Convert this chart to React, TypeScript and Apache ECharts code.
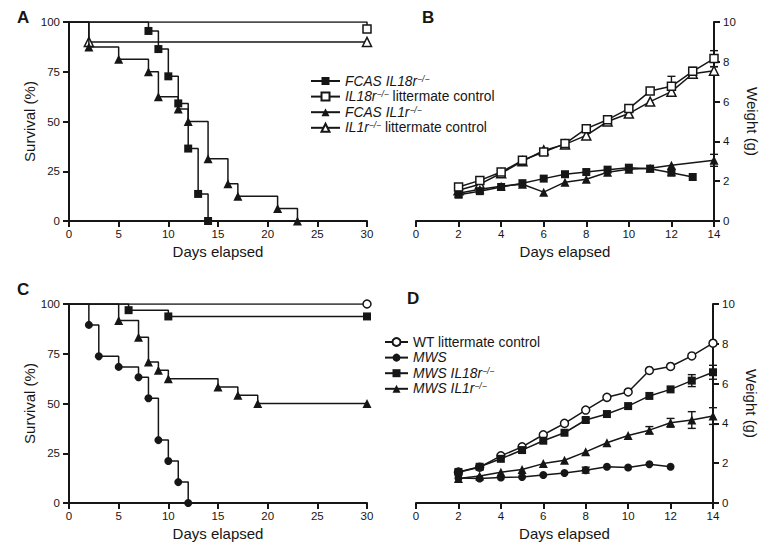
import React, { useEffect, useRef } from 'react';
import * as echarts from 'echarts';

// ---------- Panel A: survival (FCAS) ----------
const fcasIl18rDays = [8, 9, 10, 11, 12, 13, 14];
const fcasIl18rSurv = [95.5, 86.4, 72.7, 59.1, 36.4, 13.6, 0];
const il18rCtrlDays = [30];
const il18rCtrlSurv = [96.5];
const fcasIl1rDays = [2, 5, 8, 9, 11, 12, 14, 16, 17, 21, 23];
const fcasIl1rSurv = [87.5, 81.25, 75, 62.5, 56.25, 50, 31.25, 18.75, 12.5, 6.25, 0];
const il1rCtrlDays = [2];
const il1rCtrlSurv = [90];

// ---------- Panel B: weight (FCAS) ----------
const daysB = [2, 3, 4, 5, 6, 7, 8, 9, 10, 11, 12, 13, 14];
const il18rCtrlW = [1.71, 2.04, 2.46, 3.05, 3.47, 3.89, 4.64, 5.09, 5.65, 6.53, 6.77, 7.52, 8.16];
const il18rCtrlErr = [0, 0, 0, 0, 0, 0, 0, 0, 0, 0.15, 0.5, 0.2, 0.4];
const il1rCtrlW = [1.55, 1.85, 2.4, 3.0, 3.55, 3.85, 4.3, 5.0, 5.4, 6.0, 6.5, 7.4, 7.55];
const il1rCtrlErr = [0, 0, 0, 0, 0, 0, 0, 0, 0, 0, 0.15, 0, 0.2];
const fcasIl18rWDays = [2, 3, 4, 5, 6, 7, 8, 9, 10, 11, 12, 13];
const fcasIl18rW = [1.32, 1.5, 1.71, 1.9, 2.13, 2.35, 2.46, 2.58, 2.68, 2.63, 2.43, 2.21];
const fcasIl18rWErr = [0, 0, 0, 0, 0, 0, 0, 0, 0, 0, 0.15, 0];
const fcasIl1rWDays = [2, 3, 4, 5, 6, 7, 8, 9, 10, 11, 12, 14];
const fcasIl1rW = [1.4, 1.6, 1.75, 1.85, 1.45, 1.95, 2.1, 2.45, 2.6, 2.65, 2.8, 3.05];
const fcasIl1rWErr = [0, 0, 0, 0, 0, 0, 0, 0, 0, 0, 0, 0.3];

// ---------- Panel C: survival (MWS) ----------
const wtDays: number[] = [];
const wtSurv: number[] = [];
const mwsDays = [2, 3, 5, 7, 8, 9, 10, 11, 12];
const mwsSurv = [89.5, 73.7, 68.4, 63.2, 52.6, 31.6, 21.1, 10.5, 0];
const mwsIl18rDays = [6, 10];
const mwsIl18rSurv = [96.9, 93.75];
const mwsIl1rDays = [5, 7, 8, 9, 10, 15, 17, 19];
const mwsIl1rSurv = [91.7, 83.3, 70.8, 66.7, 62.5, 58.3, 54.2, 50];

// ---------- Panel D: weight (MWS) ----------
const daysD = [2, 3, 4, 5, 6, 7, 8, 9, 10, 11, 12, 13, 14];
const wtW = [1.55, 1.8, 2.37, 2.82, 3.43, 4.0, 4.67, 5.31, 5.58, 6.66, 6.86, 7.39, 8.03];
const wtErr = [0, 0, 0, 0, 0, 0, 0, 0, 0, 0, 0, 0, 0];
const mwsWDays = [2, 3, 4, 5, 6, 7, 8, 9, 10, 11, 12];
const mwsW = [1.25, 1.23, 1.28, 1.31, 1.41, 1.51, 1.65, 1.82, 1.78, 1.95, 1.82];
const mwsWErr = [0, 0, 0, 0, 0, 0, 0.15, 0, 0, 0, 0];
const mwsIl18rW = [1.56, 1.82, 2.22, 2.66, 3.13, 3.53, 4.17, 4.47, 4.87, 5.38, 5.71, 6.15, 6.57];
const mwsIl18rWErr = [0, 0, 0, 0, 0, 0, 0.1, 0, 0, 0, 0, 0.3, 0.35];
const mwsIl1rW = [1.23, 1.36, 1.55, 1.68, 1.98, 2.15, 2.57, 3.03, 3.39, 3.66, 4.03, 4.17, 4.37];
const mwsIl1rWErr = [0, 0, 0, 0, 0, 0, 0, 0, 0, 0.18, 0.22, 0.42, 0.42];

const survivalTicks = [0, 25, 50, 75, 100];
const weightTicks = [0, 2, 4, 6, 8, 10];

const nFcasIl18r = 'FCAS IL18r−/−';
const nIl18rCtrl = 'IL18r−/− littermate control';
const nFcasIl1r = 'FCAS IL1r−/−';
const nIl1rCtrl = 'IL1r−/− littermate control';
const nWt = 'WT littermate control';
const nMws = 'MWS';
const nMwsIl18r = 'MWS IL18r−/−';
const nMwsIl1r = 'MWS IL1r−/−';

const legendRich: Record<string, string> = {
  [nFcasIl18r]: '{it|FCAS IL18r}{sup|−/−}',
  [nIl18rCtrl]: '{it|IL18r}{sup|−/−}{n| littermate control}',
  [nFcasIl1r]: '{it|FCAS IL1r}{sup|−/−}',
  [nIl1rCtrl]: '{it|IL1r}{sup|−/−}{n| littermate control}',
  [nWt]: '{n|WT littermate control}',
  [nMws]: '{it|MWS}',
  [nMwsIl18r]: '{it|MWS IL18r}{sup|−/−}',
  [nMwsIl1r]: '{it|MWS IL1r}{sup|−/−}',
};

const FONT = '"Liberation Sans", Arial, Helvetica, sans-serif';
const INK = '#161616';
const LEG_FS = 13.8;

function km(days: number[], surv: number[], end: number | null) {
  const pts: any[] = [{ value: [0, 100], symbol: 'none' }];
  let prev = 100;
  days.forEach((d, i) => {
    pts.push({ value: [d, prev], symbol: 'none' });
    pts.push({ value: [d, surv[i]] });
    prev = surv[i];
  });
  if (end !== null) pts.push({ value: [end, prev] });
  return pts;
}

function pairs(xs: number[], ys: number[]) {
  return xs.map((x, i) => [x, ys[i]]);
}

function errs(xs: number[], ys: number[], es: number[]) {
  const out: number[][] = [];
  xs.forEach((x, i) => {
    if (es[i] > 0) out.push([x, ys[i] - es[i], ys[i] + es[i]]);
  });
  return out;
}

type Mk = { symbol: string; open: boolean };
const SQ: Mk = { symbol: 'rect', open: false };
const OSQ: Mk = { symbol: 'rect', open: true };
const TRI: Mk = { symbol: 'triangle', open: false };
const OTRI: Mk = { symbol: 'triangle', open: true };
const CIR: Mk = { symbol: 'circle', open: false };
const OCIR: Mk = { symbol: 'circle', open: true };

function lineSeries(name: string, grid: number, data: any[], mk: Mk, z = 3) {
  return {
    type: 'line',
    name,
    xAxisIndex: grid,
    yAxisIndex: grid,
    data,
    symbol: mk.symbol,
    symbolSize: mk.symbol === 'triangle' ? 9 : 8,
    showAllSymbol: true,
    z,
    lineStyle: { color: INK, width: 1.5 },
    itemStyle: mk.open
      ? { color: '#ffffff', borderColor: INK, borderWidth: 1.5 }
      : { color: INK, borderColor: INK, borderWidth: 0 },
    emphasis: { disabled: true },
  };
}

function errSeries(grid: number, data: number[][]) {
  return {
    type: 'custom',
    xAxisIndex: grid,
    yAxisIndex: grid,
    data,
    z: 2,
    silent: true,
    encode: { x: 0, y: [1, 2] },
    renderItem: (_p: any, api: any) => {
      const x = api.value(0);
      const lo = api.value(1);
      const hi = api.value(2);
      const top = api.coord([x, hi]);
      const bot = api.coord([x, lo]);
      const w = 4;
      const style = { stroke: INK, lineWidth: 1.4 };
      return {
        type: 'group',
        children: [
          { type: 'line', shape: { x1: top[0], y1: top[1], x2: bot[0], y2: bot[1] }, style },
          { type: 'line', shape: { x1: top[0] - w, y1: top[1], x2: top[0] + w, y2: top[1] }, style },
          { type: 'line', shape: { x1: bot[0] - w, y1: bot[1], x2: bot[0] + w, y2: bot[1] }, style },
        ],
      };
    },
  };
}

function xAxis(gridIndex: number, max: number, interval: number) {
  return {
    type: 'value',
    gridIndex,
    min: 0,
    max,
    interval,
    name: 'Days elapsed',
    nameLocation: 'middle',
    nameGap: 23,
    nameTextStyle: { fontSize: 15, color: INK, fontFamily: FONT },
    axisLine: { show: true, onZero: false, lineStyle: { color: INK, width: 2 } },
    axisTick: { show: true, length: 6, lineStyle: { color: INK, width: 2 } },
    axisLabel: { fontSize: 11.5, color: INK, margin: 7, fontFamily: FONT },
    splitLine: { show: false },
  };
}

function yAxis(gridIndex: number, kind: 'survival' | 'weight') {
  const surv = kind === 'survival';
  const ticks = surv ? survivalTicks : weightTicks;
  return {
    type: 'value',
    gridIndex,
    position: surv ? 'left' : 'right',
    min: ticks[0],
    max: ticks[ticks.length - 1],
    interval: ticks[1] - ticks[0],
    name: surv ? 'Survival (%)' : 'Weight (g)',
    nameLocation: 'middle',
    nameRotate: surv ? 90 : -90,
    nameGap: surv ? 30 : 31,
    nameTextStyle: { fontSize: 15, color: INK, fontFamily: FONT },
    axisLine: { show: true, onZero: false, lineStyle: { color: INK, width: 2 } },
    axisTick: { show: true, length: 6, lineStyle: { color: INK, width: 2 } },
    axisLabel: { fontSize: 11.5, color: INK, margin: 9, fontFamily: FONT },
    splitLine: { show: false },
  };
}

function legend(names: string[], left: number, top: number, itemWidth: number) {
  return {
    orient: 'vertical',
    left,
    top,
    data: names,
    itemWidth,
    itemHeight: 10,
    itemGap: 1.6,
    padding: 0,
    selectedMode: false,
    formatter: (name: string) => legendRich[name] || name,
    textStyle: {
      fontSize: LEG_FS,
      lineHeight: 14,
      color: INK,
      fontFamily: FONT,
      rich: {
        it: { fontSize: LEG_FS, lineHeight: 14, fontStyle: 'italic', color: INK, fontFamily: FONT },
        n: { fontSize: LEG_FS, lineHeight: 14, color: INK, fontFamily: FONT },
        sup: { fontSize: 8.5, lineHeight: 14, fontStyle: 'italic', color: INK, fontFamily: FONT, verticalAlign: 'top' },
      },
    },
  };
}

export default function App() {
  const ref = useRef<HTMLDivElement>(null);

  useEffect(() => {
    if (!ref.current) return;
    const chart = echarts.init(ref.current, undefined, { renderer: 'svg' });

    const option: any = {
      animation: false,
      backgroundColor: '#ffffff',
      grid: [
        { left: 69, top: 22, width: 298, height: 199 },
        { left: 416, top: 22, width: 298, height: 199 },
        { left: 69, top: 304, width: 298, height: 199 },
        { left: 416, top: 304, width: 297, height: 199 },
      ],
      xAxis: [xAxis(0, 30, 5), xAxis(1, 14, 2), xAxis(2, 30, 5), xAxis(3, 14, 2)],
      yAxis: [yAxis(0, 'survival'), yAxis(1, 'weight'), yAxis(2, 'survival'), yAxis(3, 'weight')],
      legend: [
        legend([nFcasIl18r, nIl18rCtrl, nFcasIl1r, nIl1rCtrl], 310, 74, 29),
        legend([nWt, nMws, nMwsIl18r, nMwsIl1r], 384, 335, 23),
      ],
      graphic: [
        { type: 'text', left: 17, top: 9, style: { text: 'A', font: `bold 17px ${FONT}`, fill: INK } },
        { type: 'text', left: 422, top: 9, style: { text: 'B', font: `bold 17px ${FONT}`, fill: INK } },
        { type: 'text', left: 17, top: 281, style: { text: 'C', font: `bold 17px ${FONT}`, fill: INK } },
        { type: 'text', left: 407, top: 290, style: { text: 'D', font: `bold 17px ${FONT}`, fill: INK } },
      ],
      series: [
        // A
        lineSeries(nFcasIl18r, 0, km(fcasIl18rDays, fcasIl18rSurv, null), SQ, 4),
        lineSeries(nIl18rCtrl, 0, km(il18rCtrlDays, il18rCtrlSurv, null), OSQ, 3),
        lineSeries(nFcasIl1r, 0, km(fcasIl1rDays, fcasIl1rSurv, null), TRI, 4),
        lineSeries(nIl1rCtrl, 0, km(il1rCtrlDays, il1rCtrlSurv, 30), OTRI, 3),
        // B
        lineSeries(nIl1rCtrl, 1, pairs(daysB, il1rCtrlW), OTRI, 3),
        lineSeries(nIl18rCtrl, 1, pairs(daysB, il18rCtrlW), OSQ, 4),
        lineSeries(nFcasIl1r, 1, pairs(fcasIl1rWDays, fcasIl1rW), TRI, 3),
        lineSeries(nFcasIl18r, 1, pairs(fcasIl18rWDays, fcasIl18rW), SQ, 4),
        errSeries(1, [
          ...errs(daysB, il18rCtrlW, il18rCtrlErr),
          ...errs(daysB, il1rCtrlW, il1rCtrlErr),
          ...errs(fcasIl18rWDays, fcasIl18rW, fcasIl18rWErr),
          ...errs(fcasIl1rWDays, fcasIl1rW, fcasIl1rWErr),
        ]),
        // C
        lineSeries(nWt, 2, km(wtDays, wtSurv, 30), OCIR, 3),
        lineSeries(nMws, 2, km(mwsDays, mwsSurv, null), CIR, 4),
        lineSeries(nMwsIl18r, 2, km(mwsIl18rDays, mwsIl18rSurv, 30), SQ, 4),
        lineSeries(nMwsIl1r, 2, km(mwsIl1rDays, mwsIl1rSurv, 30), TRI, 4),
        // D
        lineSeries(nWt, 3, pairs(daysD, wtW), OCIR, 3),
        lineSeries(nMws, 3, pairs(mwsWDays, mwsW), CIR, 4),
        lineSeries(nMwsIl18r, 3, pairs(daysD, mwsIl18rW), SQ, 4),
        lineSeries(nMwsIl1r, 3, pairs(daysD, mwsIl1rW), TRI, 4),
        errSeries(3, [
          ...errs(daysD, wtW, wtErr),
          ...errs(mwsWDays, mwsW, mwsWErr),
          ...errs(daysD, mwsIl18rW, mwsIl18rWErr),
          ...errs(daysD, mwsIl1rW, mwsIl1rWErr),
        ]),
      ],
    };

    chart.setOption(option);
    return () => chart.dispose();
  }, []);

  return (
    <div
      ref={ref}
      style={{ position: 'fixed', left: 0, top: 0, width: 779, height: 554, background: '#fff' }}
    />
  );
}
